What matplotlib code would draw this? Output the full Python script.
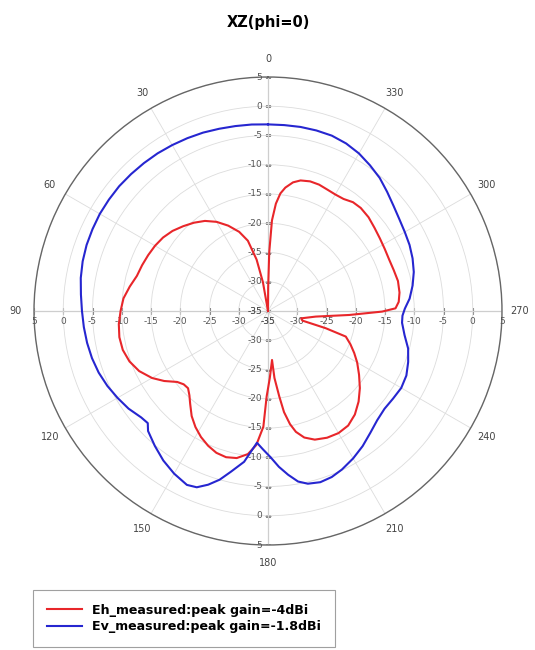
import numpy as np
import matplotlib
matplotlib.use("Agg")
import matplotlib.pyplot as plt

# Eh (horizontal polarisation) gain pattern, dB vs angle in degrees
eh_angle = [0, 7, 10, 12.5, 16, 20, 25, 30, 35, 40, 45, 50, 55, 60, 65, 70, 75, 80,
            85, 90, 95, 100, 105, 110, 115, 120, 124, 128, 131, 134, 137, 140, 144,
            148, 152, 156, 160, 164, 168, 172, 175, 177.7, 179.1, 181.5, 184.7, 185.5,
            187.5, 189, 191, 193, 196, 200, 205, 210, 215, 220, 225, 230, 235, 240,
            244, 248, 251.8, 253.4, 254.4, 257.5, 263.3, 267.2, 269.7, 271.2, 274,
            278, 283, 288, 293, 298, 303, 308, 313, 318, 322, 326, 330, 334, 338,
            342, 346, 349, 352, 354, 355.8, 357.5, 358.8, 359.6, 360]
eh_gain = [-35, -35, -30, -26, -22.5, -20.6, -18.9, -17.4, -16.2, -15.3, -14.5, -13.7,
           -13.1, -12.7, -12.4, -12.1, -11.8, -11.0, -10.2, -9.8, -9.4, -9.2, -9.3,
           -9.8, -10.7, -12.1, -13.6, -15.3, -15.9, -16.0, -15.3, -14.3, -12.8, -11.6,
           -10.6, -9.8, -9.2, -9.0, -9.3, -10.3, -12.0, -15.2, -20.4, -23.5, -26.6,
           -23.5, -20.3, -17.5, -15.3, -13.8, -12.5, -11.6, -11.1, -10.9, -11.1,
           -11.9, -13.1, -14.5, -16.0, -17.4, -18.6, -19.8, -21.0, -24.7, -28.9,
           -29.2, -26.8, -21.1, -15.5, -13.2, -12.6, -12.3, -12.2, -12.4, -12.5,
           -12.4, -12.2, -11.9, -11.5, -11.3, -11.4, -11.9, -12.0, -11.9, -11.7,
           -11.7, -12.0, -12.6, -13.7, -14.8, -16.6, -19.5, -25.0, -31.0, -35]

# Ev (vertical polarisation) gain pattern, dB vs angle in degrees
ev_angle = [0, 5, 10, 15, 20, 25, 30, 35, 40, 45, 50, 55, 60, 65, 70, 75, 80, 85,
            90, 95, 100, 105, 110, 115, 120, 125, 130, 133, 135, 140, 145, 150, 155,
            158, 161, 164, 167, 171, 175.2, 178, 181, 184, 187, 190, 193, 197, 201,
            205, 210, 215, 220, 225, 230, 235, 240, 245, 250, 255, 260, 265, 268,
            271, 275, 280, 285, 290, 295, 300, 305, 310, 315, 320, 325, 330, 335,
            340, 345, 350, 355, 360]
ev_gain = [-3.1, -3.0, -2.9, -2.75, -2.55, -2.4, -2.25, -2.1, -2.0, -1.9, -1.8, -1.8,
           -1.8, -1.9, -2.0, -2.2, -2.5, -2.9, -3.2, -3.4, -3.6, -3.85, -4.2, -4.7,
           -5.3, -5.9, -6.7, -6.9, -6.0, -4.9, -3.8, -2.9, -2.2, -2.5, -3.6, -5.0,
           -6.8, -8.9, -12.4, -11.3, -10.0, -8.3, -6.8, -5.4, -4.7, -4.4, -4.6,
           -5.1, -5.9, -6.8, -7.8, -8.6, -9.0, -8.9, -8.7, -8.9, -9.5, -10.2, -11.3,
           -12.0, -12.0, -11.6, -10.7, -9.9, -9.2, -8.7, -8.3, -8.0, -7.6, -7.0,
           -6.2, -5.3, -4.6, -3.9, -3.4, -3.1, -3.05, -3.05, -3.1, -3.1]

series_labels = ["Eh_measured:peak gain=-4dBi", "Ev_measured:peak gain=-1.8dBi"]
series_colors = ["#e8262a", "#2626d0"]

ring_values = list(range(-35, 10, 5))
angle_ticks = list(range(0, 360, 30))
r_min, r_max = -35, 5

fig = plt.figure(figsize=(5.35, 6.5), dpi=100)
ax = fig.add_axes([34 / 535, 1 - 545 / 650, 468 / 535, 468 / 650], projection="polar")
ax.set_theta_zero_location("N")
ax.set_theta_direction(1)
ax.set_rlim(r_min, r_max)

ax.set_thetagrids(angle_ticks, labels=[str(a) for a in angle_ticks],
                  fontsize=7, color="#444444")
ax.tick_params(axis="x", pad=2.5)
ax.set_rticks(ring_values)
ax.set_yticklabels([])
ax.grid(color="#dcdcdc", lw=0.6)
ax.spines["polar"].set_color("#666666")
ax.spines["polar"].set_linewidth(1.0)

# cross axes with ring ticks and labels
for ang in (0, 90, 180, 270):
    th = np.deg2rad(ang)
    ax.plot([th, th], [r_min, r_max], color="#8a8a8a", lw=0.8, zorder=1)
    vertical = ang in (0, 180)
    ax.plot([th] * len(ring_values), ring_values, ls="none",
            marker="_" if vertical else "|", ms=5, mew=0.8,
            color="#8a8a8a", zorder=1)
    for v in ring_values:
        if vertical:
            ax.annotate(str(v), (th, v), xytext=(-4, 0), textcoords="offset points",
                        ha="right", va="center", fontsize=6.5, color="#555555")
        else:
            ax.annotate(str(v), (th, v), xytext=(0, -4), textcoords="offset points",
                        ha="center", va="top", fontsize=6.5, color="#555555")

lines = []
for ang, gain, lab, col in ((eh_angle, eh_gain, series_labels[0], series_colors[0]),
                            (ev_angle, ev_gain, series_labels[1], series_colors[1])):
    ln, = ax.plot(np.deg2rad(ang), gain, color=col, lw=1.5, label=lab, zorder=3,
                  solid_joinstyle="round")
    lines.append(ln)

fig.text(268 / 535, 1 - 22 / 650, "XZ(phi=0)", ha="center", va="center",
         fontsize=10.5, fontweight="bold")

leg = fig.legend(handles=lines, loc="upper left",
                 bbox_to_anchor=(33 / 535, 1 - 590 / 650),
                 prop={"weight": "bold", "size": 9.1},
                 frameon=True, fancybox=False, borderpad=1.1,
                 handlelength=2.8, handletextpad=0.8, labelspacing=0.25,
                 borderaxespad=0)
leg.get_frame().set_edgecolor("#888888")
leg.get_frame().set_linewidth(0.8)

fig.savefig("out.png", dpi=100)
